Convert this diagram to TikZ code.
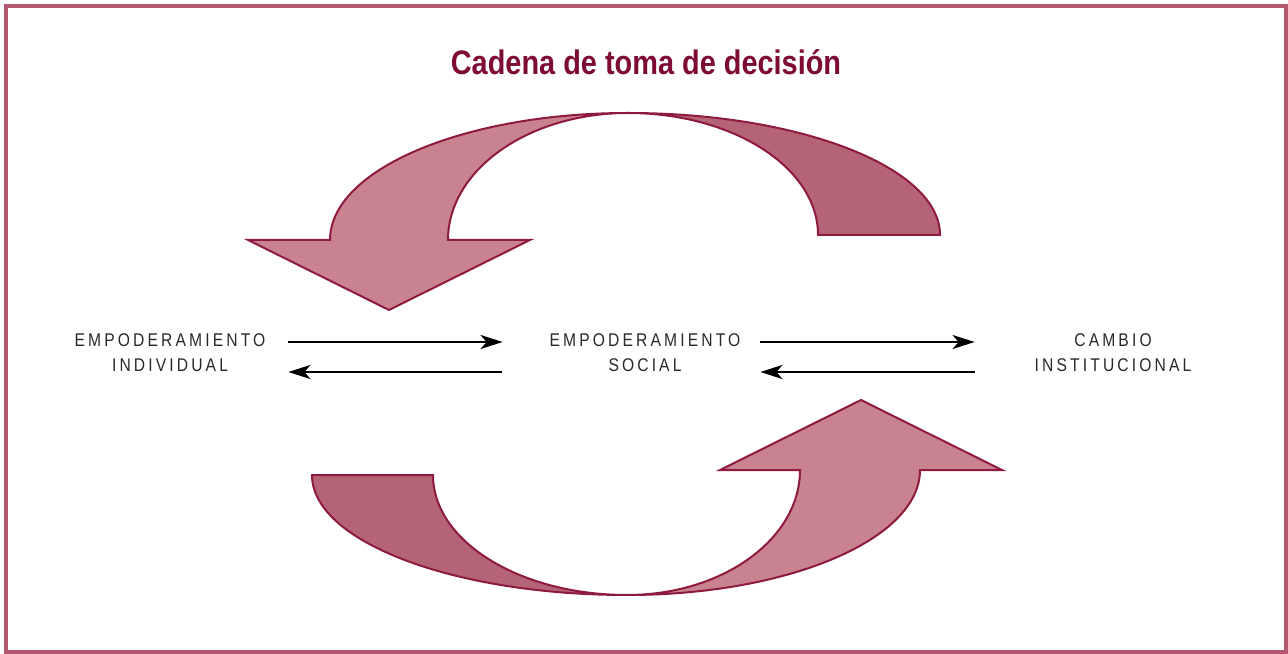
\documentclass[tikz,border=0pt]{standalone}
\usepackage{fontspec}
\setmainfont{Liberation Sans}
\newfontfamily\titlefont[FakeStretch=0.85]{Liberation Sans}
\newfontfamily\labelfont[FakeStretch=0.85,LetterSpace=17]{Liberation Sans}
\usetikzlibrary{arrows.meta}

\definecolor{framecol}{RGB}{179,86,112}
\definecolor{titlecol}{RGB}{126,10,54}
\definecolor{piecelight}{RGB}{201,130,143}
\definecolor{piecedark}{RGB}{180,100,118}
\definecolor{edgecol}{RGB}{142,26,62}
\definecolor{textcol}{RGB}{40,40,40}

\begin{document}
\begin{tikzpicture}[x=0.5pt,y=0.5pt,line join=miter,
  flow/.style={-{Stealth[length=11pt,width=7pt,inset=3pt]},line width=1.3pt,black},
  stage/.style={font=\labelfont\fontsize{9.2}{12.5}\selectfont,text=textcol,
    text width=100pt,align=center,inner sep=0pt},
  light/.style={fill=piecelight,draw=edgecol,line width=1pt},
  dark/.style={fill=piecedark,draw=edgecol,line width=1pt}]
%%
\useasboundingbox (0,0) rectangle (1288,653);
\draw [framecol,line width=1.6pt] (6,1) rectangle (1286,647);
\node (title) at (646,591) [font=\titlefont\bfseries\fontsize{17}{20}\selectfont,text=titlecol] {Cadena de toma de decisión};
%% upper loop
\draw [dark] (628,540) arc[start angle=90,end angle=0,x radius=312,y radius=122]
  -- (818,418) arc[start angle=0,end angle=90,x radius=190,y radius=122] -- cycle;
\draw [light] (330,413) arc[start angle=180,end angle=90,x radius=298,y radius=127]
  arc[start angle=90,end angle=180,x radius=180,y radius=127]
  -- (530,413) -- (389,343) -- (248,413) -- cycle;
%% lower loop
\draw [dark] (312,178) arc[start angle=180,end angle=270,x radius=315,y radius=120]
  arc[start angle=270,end angle=180,x radius=194,y radius=120] -- cycle;
\draw [light] (627,58) arc[start angle=270,end angle=360,x radius=293,y radius=125]
  -- (1002,183) -- (861,253) -- (720,183) -- (800,183)
  arc[start angle=0,end angle=-90,x radius=173,y radius=125] -- cycle;
%% stages
\node (indiv) at (170,300) [stage] {EMPODERAMIENTO\\INDIVIDUAL};
\node (social) at (645,300) [stage] {EMPODERAMIENTO\\SOCIAL};
\node (inst) at (1113,300) [stage] {CAMBIO\\INSTITUCIONAL};
\draw [flow,shorten <=9pt,shorten >=21pt] ([yshift=5.5pt]indiv.east) -- ([yshift=5.5pt]social.west);
\draw [flow,shorten <=21.5pt,shorten >=9pt] ([yshift=-9.5pt]social.west) -- ([yshift=-9.5pt]indiv.east);
\draw [flow,shorten <=7.5pt,shorten >=19pt] ([yshift=5.5pt]social.east) -- ([yshift=5.5pt]inst.west);
\draw [flow,shorten <=19pt,shorten >=7.5pt] ([yshift=-9.5pt]inst.west) -- ([yshift=-9.5pt]social.east);
%
\end{tikzpicture}
\end{document}
